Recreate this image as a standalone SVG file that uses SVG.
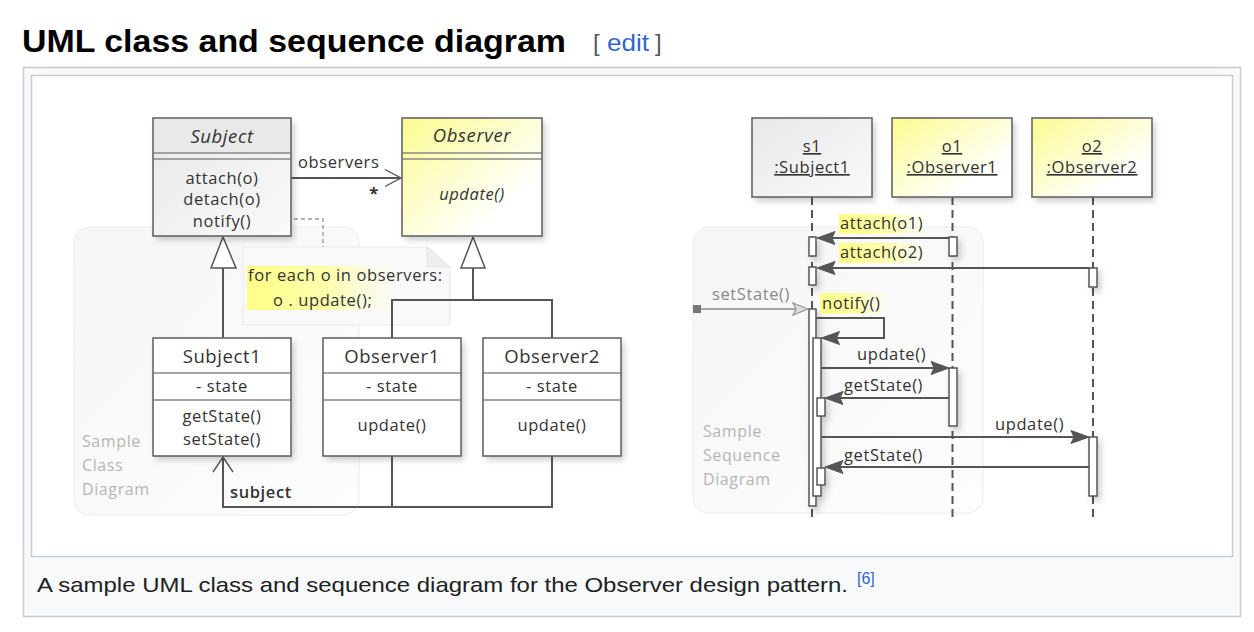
<svg xmlns="http://www.w3.org/2000/svg" width="1254" height="632" viewBox="0 0 1254 632">
<defs>
<style>
.box{stroke:#666;stroke-width:1.6;fill:none}
.sep{stroke:#888;stroke-width:1.3}
.ln{stroke:#555;stroke-width:2;fill:none}
.thin{stroke:#555;stroke-width:1.4;fill:none}
.ah{fill:#555;stroke:#555;stroke-width:1}
.act{fill:#fff;stroke:#555;stroke-width:1.5}
.life{stroke:#555;stroke-width:2;stroke-dasharray:8 5;fill:none}
.t{font-family:"Open Sans","Noto Sans","DejaVu Sans",sans-serif;font-size:16.5px;letter-spacing:0.6px;fill:#333}
.c{text-anchor:middle}
.cls{font-size:18.5px}
.it{font-style:italic}
.bgl{font-size:16px;fill:#b5b5b5}
.ul{text-decoration:underline}
.ui{font-family:"Liberation Sans",Arial,sans-serif}
</style>
<filter id="sh" x="-20%" y="-20%" width="150%" height="150%">
<feDropShadow dx="3" dy="4" stdDeviation="3" flood-color="#000" flood-opacity="0.2"/>
</filter>
<linearGradient id="gGray" x1="0" y1="0" x2="1" y2="1">
<stop offset="0" stop-color="#e8e8e8"/>
<stop offset="1" stop-color="#fafafa"/>
</linearGradient>
<linearGradient id="gYel" x1="0" y1="0" x2="1" y2="1">
<stop offset="0" stop-color="#fbfb90"/>
<stop offset="0.75" stop-color="#ffffff"/>
</linearGradient>
<linearGradient id="gHi" x1="0" y1="0" x2="1" y2="0">
<stop offset="0" stop-color="#ffff88" stop-opacity="1"/>
<stop offset="0.55" stop-color="#ffff99" stop-opacity="0.8"/>
<stop offset="1" stop-color="#ffffcc" stop-opacity="0"/>
</linearGradient>
<linearGradient id="gBg" x1="0" y1="0" x2="1" y2="1">
<stop offset="0" stop-color="#f6f6f6"/>
<stop offset="1" stop-color="#fdfdfd"/>
</linearGradient>
</defs>

<rect width="1254" height="632" fill="#fff"/>

<g id="heading">
<text class="ui" x="22" y="52" font-size="32" font-weight="bold" fill="#000" textLength="544" lengthAdjust="spacingAndGlyphs">UML class and sequence diagram</text>
<text class="ui" x="593" y="51" font-size="24" fill="#54595d">[</text>
<text class="ui" x="607" y="51" font-size="24" fill="#3366cc" textLength="42" lengthAdjust="spacingAndGlyphs">edit</text>
<text class="ui" x="655" y="51" font-size="24" fill="#54595d">]</text>
</g>

<g id="frame">
<rect x="23.5" y="67.5" width="1217" height="549" fill="#f8f9fa" stroke="#c8ccd1" stroke-width="1.5"/>
<rect x="31.5" y="75.5" width="1201" height="481" fill="#fff" stroke="#c8ccd1" stroke-width="1.5"/>
<text class="ui" x="37" y="592" font-size="21" fill="#202122" textLength="811" lengthAdjust="spacingAndGlyphs">A sample UML class and sequence diagram for the Observer design pattern.</text>
<text class="ui" x="857" y="584" font-size="16" fill="#3366cc">[6]</text>
</g>

<g id="classBg">
<rect x="74" y="227" width="285" height="288" rx="16" fill="url(#gBg)" stroke="#f1f1f1" stroke-width="1.5"/>
<text class="t bgl" x="82" y="447">Sample</text>
<text class="t bgl" x="82" y="471">Class</text>
<text class="t bgl" x="82" y="495">Diagram</text>
</g>
<g id="seqBg">
<rect x="693" y="227" width="290" height="286" rx="16" fill="url(#gBg)" stroke="#f1f1f1" stroke-width="1.5"/>
<text class="t bgl" x="703" y="437">Sample</text>
<text class="t bgl" x="703" y="461">Sequence</text>
<text class="t bgl" x="703" y="485">Diagram</text>
</g>

<g id="note">
<polygon points="243,247 427,247 450,267 450,325 243,325" fill="#f9f9f9" stroke="#ebebeb" stroke-width="1.2"/>
<polygon points="427,247 427,267 450,267" fill="#eeeeee" stroke="#e6e6e6" stroke-width="1"/>
<rect x="247" y="266" width="150" height="44" fill="url(#gHi)"/>
<text class="t" x="248" y="281" font-size="16">for each o in observers:</text>
<text class="t" x="273" y="306" font-size="16">o . update();</text>
</g>

<g id="classConnectors">
<line class="ln" x1="291" y1="178" x2="400" y2="178"/>
<polyline class="thin" points="385,169.5 401,178 385,186.5"/>
<text class="t" x="298" y="168">observers</text>
<text class="t c" x="374" y="199" font-size="16" font-weight="bold">*</text>
<polyline points="252,219 323,219 323,247" fill="none" stroke="#999" stroke-width="1.3" stroke-dasharray="4 3"/>
<line class="ln" x1="223" y1="338" x2="223" y2="268"/>
<polygon points="223,237 211,268 236,268" fill="#fff" stroke="#555" stroke-width="1.5"/>
<polyline class="ln" points="392,338 392,300 552,300 552,338"/>
<line class="ln" x1="473" y1="300" x2="473" y2="268"/>
<polygon points="473,237 461,268 485,268" fill="#fff" stroke="#555" stroke-width="1.5"/>
<polyline class="ln" points="552,456 552,507 223,507 223,458"/>
<line class="ln" x1="392" y1="456" x2="392" y2="507"/>
<polyline class="thin" points="213,472 223,457 233,472"/>
<text class="t" x="230" y="498" font-weight="600">subject</text>
</g>

<g id="Subject">
<rect x="153" y="118" width="138" height="118" fill="url(#gGray)" filter="url(#sh)"/>
<rect x="153" y="118" width="138" height="35" fill="#e9e9e9"/>
<line class="sep" x1="153" y1="153" x2="291" y2="153" stroke="#aaa"/>
<line class="sep" x1="153" y1="159" x2="291" y2="159" stroke="#aaa"/>
<rect class="box" x="153" y="118" width="138" height="118"/>
<text class="t c cls it" x="222" y="143">Subject</text>
<text class="t c" x="222" y="184">attach(o)</text>
<text class="t c" x="222" y="205">detach(o)</text>
<text class="t c" x="222" y="227">notify()</text>
</g>

<g id="Observer">
<rect x="402" y="118" width="140" height="118" fill="url(#gYel)" filter="url(#sh)"/>
<line class="sep" x1="402" y1="153" x2="542" y2="153" stroke="#bbb"/>
<line class="sep" x1="402" y1="159" x2="542" y2="159" stroke="#bbb"/>
<rect class="box" x="402" y="118" width="140" height="118"/>
<text class="t c cls it" x="472" y="142">Observer</text>
<text class="t c it" x="472" y="200" font-size="17.5">update()</text>
</g>

<g id="Subject1">
<rect x="153" y="338" width="138" height="118" fill="#fff" filter="url(#sh)"/>
<line class="sep" x1="153" y1="373" x2="291" y2="373"/>
<line class="sep" x1="153" y1="400" x2="291" y2="400"/>
<rect class="box" x="153" y="338" width="138" height="118"/>
<text class="t c cls" x="222" y="363">Subject1</text>
<text class="t c" x="222" y="392">- state</text>
<text class="t c" x="222" y="422">getState()</text>
<text class="t c" x="222" y="445">setState()</text>
</g>

<g id="Observer1">
<rect x="323" y="338" width="138" height="118" fill="#fff" filter="url(#sh)"/>
<line class="sep" x1="323" y1="373" x2="461" y2="373"/>
<line class="sep" x1="323" y1="400" x2="461" y2="400"/>
<rect class="box" x="323" y="338" width="138" height="118"/>
<text class="t c cls" x="392" y="363">Observer1</text>
<text class="t c" x="392" y="392">- state</text>
<text class="t c" x="392" y="431">update()</text>
</g>

<g id="Observer2">
<rect x="483" y="338" width="138" height="118" fill="#fff" filter="url(#sh)"/>
<line class="sep" x1="483" y1="373" x2="621" y2="373"/>
<line class="sep" x1="483" y1="400" x2="621" y2="400"/>
<rect class="box" x="483" y="338" width="138" height="118"/>
<text class="t c cls" x="552" y="363">Observer2</text>
<text class="t c" x="552" y="392">- state</text>
<text class="t c" x="552" y="431">update()</text>
</g>

<g id="lifelines">
<line class="life" x1="812" y1="197" x2="812" y2="517"/>
<line class="life" x1="952.5" y1="197" x2="952.5" y2="517"/>
<line class="life" x1="1093" y1="197" x2="1093" y2="517"/>
</g>

<g id="s1">
<rect x="752" y="118" width="120" height="79" fill="url(#gGray)" filter="url(#sh)"/>
<rect class="box" x="752" y="118" width="120" height="79"/>
<text class="t c ul" x="812" y="152">s1</text>
<text class="t c ul" x="812" y="173">:Subject1</text>
</g>
<g id="o1">
<rect x="892" y="118" width="120" height="79" fill="url(#gYel)" filter="url(#sh)"/>
<rect class="box" x="892" y="118" width="120" height="79"/>
<text class="t c ul" x="952" y="152">o1</text>
<text class="t c ul" x="952" y="173">:Observer1</text>
</g>
<g id="o2">
<rect x="1032" y="118" width="120" height="79" fill="url(#gYel)" filter="url(#sh)"/>
<rect class="box" x="1032" y="118" width="120" height="79"/>
<text class="t c ul" x="1092" y="152">o2</text>
<text class="t c ul" x="1092" y="173">:Observer2</text>
</g>

<g id="activations" filter="url(#sh)">
<rect class="act" x="809" y="237" width="7" height="19"/>
<rect class="act" x="809" y="267" width="7" height="18"/>
<rect class="act" x="809" y="309" width="7" height="197"/>
<rect class="act" x="813" y="338" width="8" height="158"/>
<rect class="act" x="817" y="398" width="8" height="18"/>
<rect class="act" x="817" y="468" width="8" height="17"/>
<rect class="act" x="949" y="237" width="8" height="19"/>
<rect class="act" x="949" y="368" width="8" height="58"/>
<rect class="act" x="1089" y="268" width="8" height="19"/>
<rect class="act" x="1089" y="437" width="8" height="59"/>
</g>

<g id="messages">
<rect x="839" y="214" width="90" height="20" fill="url(#gHi)"/>
<text class="t" x="840" y="229">attach(o1)</text>
<line class="ln" x1="949" y1="238" x2="830" y2="238"/>
<polygon class="ah" points="817,238 835,231.5 832,238 835,244.5"/>
<rect x="839" y="243" width="90" height="20" fill="url(#gHi)"/>
<text class="t" x="840" y="258">attach(o2)</text>
<line class="ln" x1="1089" y1="268" x2="830" y2="268"/>
<polygon class="ah" points="817,268 835,261.5 832,268 835,274.5"/>
<rect x="693" y="305" width="8" height="8" fill="#777"/>
<line x1="701" y1="309" x2="796" y2="309" stroke="#888" stroke-width="1.5"/>
<polygon points="808,309 793,303 796,309 793,315" fill="#ddd" stroke="#999" stroke-width="1.3"/>
<text class="t" x="712" y="300" font-size="14.5" style="fill:#888">setState()</text>
<rect x="820" y="293" width="70" height="21" fill="url(#gHi)"/>
<text class="t" x="822" y="309">notify()</text>
<polyline class="ln" points="816,318 884,318 884,338 835,338"/>
<polygon class="ah" points="821.5,338 839.5,331.5 836.5,338 839.5,344.5"/>
<text class="t" x="857" y="360">update()</text>
<line class="ln" x1="821" y1="368" x2="937" y2="368"/>
<polygon class="ah" points="949,368 931,361.5 934,368 931,374.5"/>
<text class="t" x="844" y="391">getState()</text>
<line class="ln" x1="949" y1="398" x2="838" y2="398"/>
<polygon class="ah" points="825,398 843,391.5 840,398 843,404.5"/>
<text class="t" x="995" y="430">update()</text>
<line class="ln" x1="821" y1="437" x2="1077" y2="437"/>
<polygon class="ah" points="1089,437 1071,430.5 1074,437 1071,443.5"/>
<text class="t" x="844" y="461">getState()</text>
<line class="ln" x1="1089" y1="467" x2="838" y2="467"/>
<polygon class="ah" points="825,467 843,460.5 840,467 843,473.5"/>
</g>
</svg>
